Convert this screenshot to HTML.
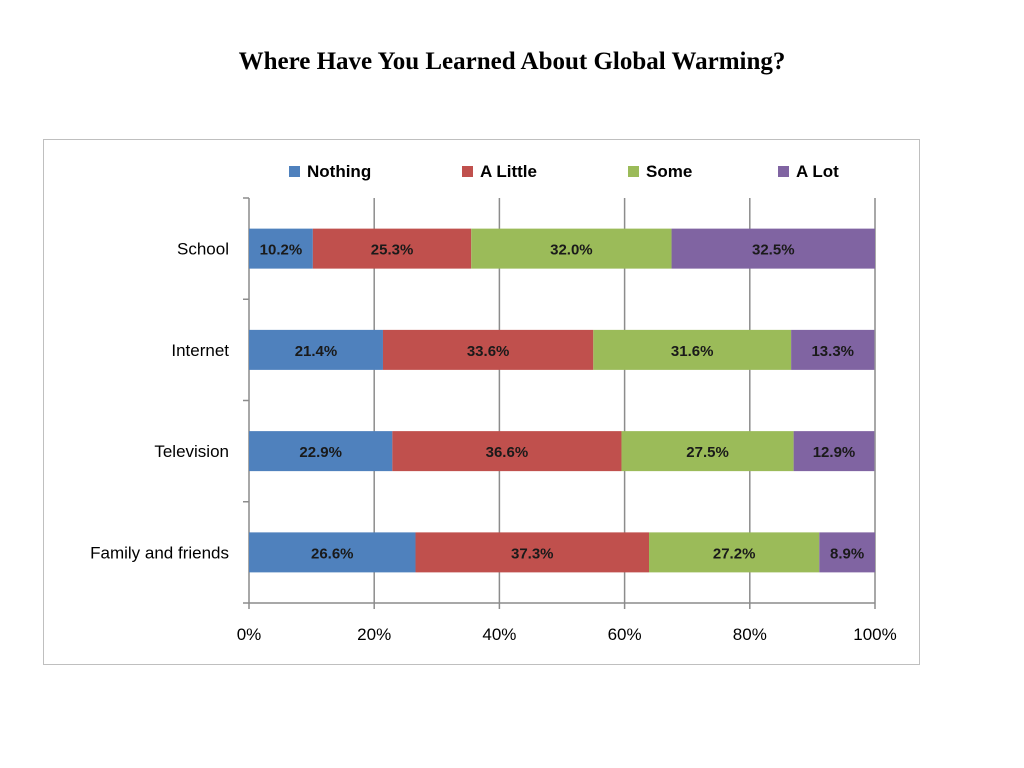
<!DOCTYPE html>
<html><head><meta charset="utf-8"><style>
body{margin:0;background:#fff;width:1024px;height:768px;overflow:hidden}
#title{position:absolute;left:0;width:1024px;top:48px;text-align:center;font:bold 25px "Liberation Serif",serif;color:#000}
#box{position:absolute;left:43px;top:139px;width:877px;height:526px;border:1px solid #bfbfbf;box-sizing:border-box}
svg{position:absolute;left:0;top:0}
</style></head><body>
<div id="title">Where Have You Learned About Global Warming?</div>
<div id="box"></div>
<svg id="chart" width="1024" height="768" font-family="Liberation Sans, sans-serif"></svg>
<script>
const categories = ["School","Internet","Television","Family and friends"];
const seriesNames = ["Nothing","A Little","Some","A Lot"];
const nothing = [10.2,21.4,22.9,26.6];
const aLittle = [25.3,33.6,36.6,37.3];
const some = [32.0,31.6,27.5,27.2];
const aLot = [32.5,13.3,12.9,8.9];
const xTicks = [0,20,40,60,80,100];
const colors = ["#4F81BD","#C0504D","#9BBB59","#8064A2"];
const series = [nothing,aLittle,some,aLot];
const NS="http://www.w3.org/2000/svg";
const svg=document.getElementById('chart');
const x0=249,x1=875,yTop=198,yBot=603;
const xs=v=>x0+(x1-x0)*v/100;
const band=(yBot-yTop)/categories.length;
const yc=i=>yTop+band*(i+0.5);
function mk(t,a){const e=document.createElementNS(NS,t);for(const k in a)e.setAttribute(k,a[k]);svg.appendChild(e);return e;}
// gridlines + x ticks
xTicks.forEach(t=>{
  if(t>0){const g=mk('line',{x1:xs(t),x2:xs(t),y1:yTop,y2:yBot,stroke:'#8c8c8c','stroke-width':1.5});
  
  }
  const tk=mk('line',{x1:xs(t),x2:xs(t),y1:yBot,y2:yBot+6,stroke:'#8c8c8c','stroke-width':1.5});
  
  
  const l=mk('text',{x:xs(t),y:640,'text-anchor':'middle','font-size':17,fill:'#000'});
  l.textContent=t+'%';
  
  
});
// y axis
const ya=mk('line',{x1:x0,x2:x0,y1:yTop,y2:yBot,stroke:'#8c8c8c','stroke-width':1.5});


const xa=mk('line',{x1:x0,x2:x1,y1:yBot,y2:yBot,stroke:'#8c8c8c','stroke-width':1.5});


for(let i=0;i<=categories.length;i++){
  const t=mk('line',{x1:x0-6,x2:x0,y1:yTop+band*i,y2:yTop+band*i,stroke:'#8c8c8c','stroke-width':1.5});
  
  
}
const bh=40;
categories.forEach((c,i)=>{
  const l=mk('text',{x:229,y:yc(i)+6,'text-anchor':'end','font-size':17,fill:'#000'});
  l.textContent=c;
  
  
  let acc=0;
  series.forEach((s,j)=>{
    const v=s[i];
    const r=mk('rect',{x:xs(acc),y:yc(i)-bh/2,width:xs(acc+v)-xs(acc),height:bh,fill:colors[j]});
    
    
    const tx=mk('text',{x:(xs(acc)+xs(acc+v))/2,y:yc(i)+6,'text-anchor':'middle','font-size':15,'font-weight':'bold',fill:'#1a1a1a'});
    tx.textContent=v.toFixed(1)+'%';
    
    
    acc+=v;
  });
});
// legend
const lx=[289,462,628,778];
seriesNames.forEach((n,j)=>{
  const r=mk('rect',{x:lx[j],y:166,width:11,height:11,fill:colors[j]});
  
  
  const t=mk('text',{x:lx[j]+18,y:177,'font-size':17,'font-weight':'bold',fill:'#000'});
  t.textContent=n;
  
  
});
</script>
</body></html>
